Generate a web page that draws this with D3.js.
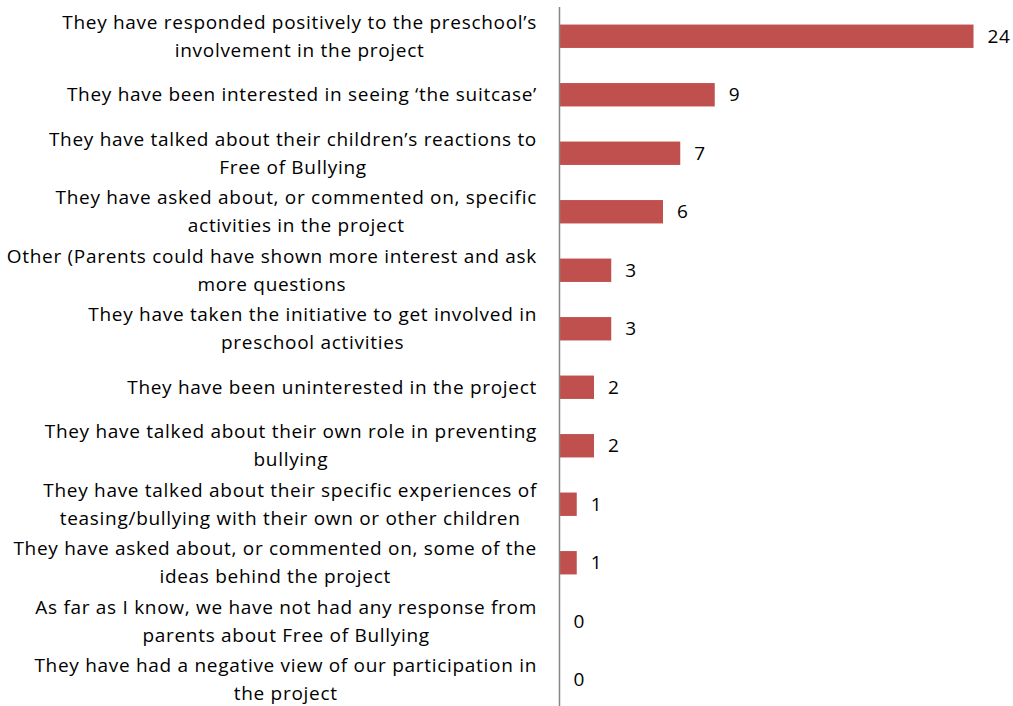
<!DOCTYPE html>
<html>
<head>
<meta charset="utf-8">
<script src="https://cdn.jsdelivr.net/npm/d3@7"></script>
<style>
  html, body { margin: 0; padding: 0; background: #fff; }
  svg { display: block; }
  text { font-family: "Open Sans", sans-serif; fill: #000; }
</style>
</head>
<body>
<svg id="chart" width="1013" height="706"></svg>
<script>
// Parents' responses to the Free of Bullying project (number of preschools)
const categories = [
  "They have responded positively to the preschool’s\ninvolvement in the project",
  "They have been interested in seeing ‘the suitcase’",
  "They have talked about their children’s reactions to\nFree of Bullying",
  "They have asked about, or commented on, specific\nactivities in the project",
  "Other (Parents could have shown more interest and ask\nmore questions",
  "They have taken the initiative to get involved in\npreschool activities",
  "They have been uninterested in the project",
  "They have talked about their own role in preventing\nbullying",
  "They have talked about their specific experiences of\nteasing/bullying with their own or other children",
  "They have asked about, or commented on, some of the\nideas behind the project",
  "As far as I know, we have not had any response from\nparents about Free of Bullying",
  "They have had a negative view of our participation in\nthe project"
];
const values = [24, 9, 7, 6, 3, 3, 2, 2, 1, 1, 0, 0];

const FONT = 19;
const SPACING = 0.7;
const svg = d3.select("#chart");
const axisX = 559.5;
const labelRight = 537;

const y = d3.scaleBand()
  .domain(categories)
  .range([7, 709])
  .paddingInner(0.6)
  .paddingOuter(0.3);

const x = d3.scaleLinear()
  .domain([0, 24])
  .range([axisX, 973.5]);

const data = categories.map((c, i) => ({ cat: c, value: values[i] }));

// bars
svg.append("g")
  .selectAll("rect")
  .data(data)
  .join("rect")
  .attr("x", x(0))
  .attr("y", d => y(d.cat))
  .attr("width", d => x(d.value) - x(0))
  .attr("height", y.bandwidth())
  .attr("fill", "#C0504D");

// value labels
svg.append("g")
  .selectAll("text")
  .data(data)
  .join("text")
  .attr("x", d => x(d.value) + 14)
  .attr("y", d => y(d.cat) + y.bandwidth() / 2)
  .attr("dy", "0.35em")
  .attr("font-size", FONT)
  .attr("letter-spacing", SPACING)
  .text(d => d.value);

// category axis (left)
const yAxis = d3.axisLeft(y).tickSize(0).tickPadding(0);
const gAxis = svg.append("g")
  .attr("transform", `translate(${axisX},0)`)
  .call(yAxis);
gAxis.select(".domain").attr("stroke", "#868686").attr("stroke-width", 1.5)
  .attr("d", "M0,7V709");

// wrapped labels: each line centred, the block right-aligned against the axis
gAxis.selectAll(".tick text")
  .attr("font-size", FONT)
  .attr("font-family", "'Open Sans', sans-serif")
  .attr("letter-spacing", SPACING)
  .attr("fill", "#000")
  .attr("text-anchor", "middle")
  .each(function(d) {
    const t = d3.select(this);
    const lines = d.split("\n");
    t.text(null);
    const lh = 28;
    const off = -(lines.length - 1) * lh / 2;
    const spans = lines.map((ln, i) =>
      t.append("tspan")
        .attr("y", off + i * lh)
        .attr("dy", "0.35em")
        .text(ln));
    const w = d3.max(spans, s => s.node().getComputedTextLength());
    const cx = (labelRight - axisX) - w / 2;
    spans.forEach(s => s.attr("x", cx));
  });
</script>
</body>
</html>
